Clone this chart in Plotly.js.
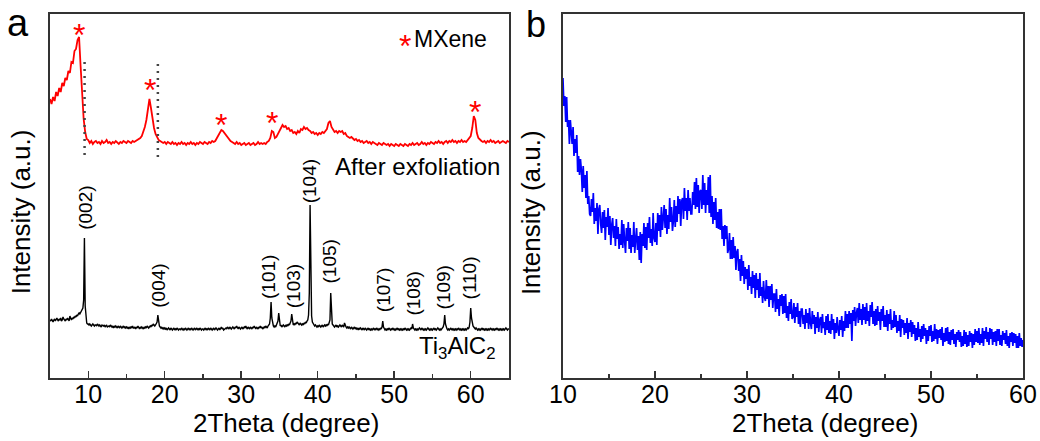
<!DOCTYPE html>
<html>
<head>
<meta charset="utf-8">
<script src="https://cdn.plot.ly/plotly-3.0.1.min.js"></script>
<style>html,body{margin:0;padding:0;background:#fff;}#chart{width:1040px;height:441px;}</style>
</head>
<body>
<div id="chart"></div>
<script>
// ---------- Panel a : MXene after exfoliation (red), 2Theta from 5 to 65, step 0.2 ----------
const redStart = 5, redStep = 0.2;
const redIntensity = [
279,274,281,277,286,282,290,286,295,292,
300,298,307,305,316,315,327,329,338,341,
312,281,259,246,239,238,235,237,234,236,
237,235,236,234,237,235,236,238,235,236,
234,236,235,237,235,234,236,235,237,236,
235,237,236,235,237,236,237,238,239,240,
242,246,251,258,268,279,270,258,250,244,
240,238,237,236,235,236,234,236,235,234,
236,234,235,233,235,234,236,234,235,233,
235,234,236,234,235,233,235,234,236,235,
234,236,235,234,236,235,237,236,237,240,
243,246,248,247,245,242,240,238,237,236,
235,234,236,234,235,233,234,235,233,234,
235,233,234,235,233,234,236,234,235,234,
235,234,236,237,240,247,246,240,241,244,
247,250,253,251,252,249,250,247,248,245,
246,244,247,245,249,248,251,249,250,248,
247,245,246,244,245,243,245,244,246,245,
247,249,255,257,251,248,246,247,245,247,
246,247,244,245,242,241,240,241,239,238,
239,237,238,236,237,235,236,237,235,236,
234,236,235,234,233,235,234,233,235,234,
233,234,232,234,233,232,234,233,232,234,
233,232,234,233,232,234,233,235,233,234,
235,233,234,236,234,235,233,235,234,236,
235,234,236,235,237,235,236,234,236,237,
235,237,236,238,236,237,235,237,236,238,
236,237,236,238,239,242,250,262,258,245,
240,238,237,236,237,235,237,236,238,236,
237,235,236,237,235,236,237,236,235,237,
236
];

// ---------- Panel a : Ti3AlC2 (black), 2Theta from 5 to 65, step 0.1 ----------
const blackStart = 5, blackStep = 0.1;
const blackIntensity = [
58,57,59,58,56,58,59,57,58,60,
58,57,59,58,60,57,58,61,59,58,
57,59,58,60,58,57,62,59,58,60,
59,61,60,62,61,63,62,64,65,64,
66,67,68,70,78,140,72,56,55,54,
54,53,54,53,52,53,54,53,52,53,
53,52,54,53,52,53,52,51,53,52,
52,53,51,52,53,51,52,52,51,53,
52,51,52,50,52,51,52,51,50,52,
51,50,52,51,50,51,52,50,51,50,
51,50,51,49,51,50,51,50,52,50,
50,51,49,51,50,52,50,49,51,50,
51,50,49,51,50,51,50,52,51,50,
51,52,51,53,52,54,53,52,53,55,
56,63,56,52,51,50,51,49,50,49,
50,49,50,48,49,50,49,48,50,49,
48,49,50,48,49,48,50,49,48,49,
49,48,50,49,48,49,48,50,49,48,
49,50,48,49,48,50,49,48,49,50,
48,49,50,48,49,48,50,49,48,49,
49,48,49,50,48,49,48,50,49,48,
50,49,48,49,50,48,49,50,49,48,
49,50,48,49,51,49,50,48,49,50,
50,49,51,50,49,51,50,49,50,51,
50,49,51,50,52,50,49,51,50,49,
50,51,49,50,51,50,52,50,49,51,
50,49,51,50,49,51,50,52,50,49,
51,50,49,51,50,52,50,51,49,50,
51,50,52,51,50,52,53,54,60,76,
60,53,52,51,52,51,53,54,57,65,
56,52,53,51,52,53,52,51,53,52,
53,52,54,53,55,57,64,57,53,54,
53,55,54,56,55,54,53,55,54,53,
54,53,55,54,56,55,57,58,63,85,
173,90,62,56,54,53,52,53,52,51,
52,51,53,52,51,52,53,51,52,53,
52,53,52,54,53,55,58,85,62,54,
53,52,51,52,53,51,52,51,52,53,
52,51,53,52,51,55,52,51,50,51,
50,51,50,49,51,50,49,50,51,49,
50,49,50,48,50,49,50,49,48,50,
49,48,50,49,48,49,50,48,49,48,
49,48,49,50,48,49,48,50,49,48,
49,48,50,49,51,57,51,49,48,49,
48,49,48,50,49,48,49,48,50,49,
48,49,48,49,50,48,49,48,49,48,
49,48,49,48,50,49,48,49,48,49,
48,49,50,49,54,50,49,48,49,48,
49,48,49,50,49,48,50,49,48,49,
48,49,48,49,50,49,48,49,48,49,
48,49,50,48,49,48,49,50,49,48,
49,48,49,50,51,54,63,54,50,49,
48,49,48,49,50,48,49,48,49,48,
49,48,49,48,50,49,48,49,48,49,
48,49,48,49,48,49,50,49,51,56,
70,60,54,52,51,50,49,50,49,48,
49,48,49,48,49,50,48,49,48,49,
48,49,48,49,48,49,50,48,49,48,
49,48,49,48,50,49,48,49,48,49,
48,49,48,49,48,49,50,49,48,49,
49
];

// ---------- Panel b (blue), 2Theta from 10 to 60, step 0.1 ----------
const blueStart = 10, blueStep = 0.1;
const blueIntensity = [
300,272,282,256,281,251,258,234,258,240,
234,251,222,239,225,243,206,222,203,219,
208,186,212,190,203,180,207,174,182,164,
162,179,166,185,154,170,157,175,144,169,
173,154,145,166,150,168,138,161,151,170,
143,162,133,153,160,140,152,132,159,139,
151,129,144,133,158,130,154,137,125,150,
137,156,129,150,125,143,131,156,125,139,
150,128,142,118,146,115,144,132,155,130,
151,128,155,140,161,135,149,132,165,140,
136,155,133,165,147,163,141,171,148,160,
173,150,169,144,163,149,180,156,171,147,
157,178,151,172,156,182,164,179,152,177,
180,159,190,167,180,158,188,167,180,164,
164,186,173,196,169,200,171,193,165,187,
188,169,203,173,195,165,188,173,201,165,
203,161,182,154,176,158,180,150,166,149,
169,148,169,139,152,132,153,139,152,125,
129,145,119,138,119,141,120,132,108,126,
129,107,119,97,123,102,117,94,111,99,
109,88,113,92,101,84,107,90,103,80,
105,88,99,80,105,82,91,75,97,81,
77,98,79,92,71,92,78,94,70,84,
84,66,89,69,79,62,83,72,84,64,
82,65,84,60,72,57,76,64,79,59,
61,75,55,71,61,75,54,67,51,69,
69,54,63,49,69,55,65,49,70,55,
49,67,54,63,44,61,50,66,46,58,
61,45,64,50,56,43,62,48,64,45,
57,44,64,48,59,39,55,45,61,49,
42,58,48,62,41,57,47,67,50,64,
50,67,54,65,37,68,57,71,52,65,
70,55,75,58,69,53,74,58,71,54,
75,57,67,52,73,61,76,54,67,52,
69,53,72,57,66,48,69,57,72,51,
63,51,68,47,64,54,69,48,58,50,
67,51,63,45,57,47,63,41,59,50,
58,43,55,45,60,39,55,46,58,41,
56,44,53,37,50,38,56,41,49,36,
52,39,54,42,50,34,48,37,52,42,
53,36,47,37,54,39,49,34,48,40,
49,38,51,32,45,36,50,37,51,34,
46,33,48,38,49,34,44,31,46,38,
48,36,46,31,42,32,48,34,46,31,
43,32,47,36,45,30,44,33,49,36,
47,35,50,33,44,35,50,32,47,39,
51,36,46,33,50,39,49,33,46,36,
47,32,49,37,49,33,43,32,47,38,
45,34,48,32,42,30,45,36,46,32,
45,35,44,30,42,30,45,32,40,31,
38
];

// ---------- labels ----------
const peakLabels = ['(002)','(004)','(101)','(103)','(104)','(105)','(107)','(108)','(109)','(110)'];
const peakLabelTheta = [9.55,19.15,33.5,36.8,38.9,41.6,48.55,52.4,56.5,59.9];
const peakLabelLevel = [170,92.5,101,92,197,116.5,88,84,90.5,100.5];
const mxeneStarTheta = [8.8,18.1,27.3,34.05,60.5];
const mxeneStarLevel = [350,295,260,262,273];
const dottedTheta = [9.52,19.1];
const dottedFrom = [223,221];
const dottedTo = [320,318];
const xTickValsA = [10,20,30,40,50,60];
const xTickValsB = [10,20,30,40,50,60];

function grid(start, step, n){ return Array.from({length:n}, (_, i) => +(start + i*step).toFixed(2)); }

const FONT = 'Arial, "Liberation Sans", sans-serif';
const frame = '#333333';

const traces = [
  {x: grid(redStart, redStep, redIntensity.length), y: redIntensity, type:'scatter', mode:'lines',
   line:{color:'#ff0000', width:1.8}, xaxis:'x', yaxis:'y', hoverinfo:'skip'},
  {x: grid(blackStart, blackStep, blackIntensity.length), y: blackIntensity, type:'scatter', mode:'lines',
   line:{color:'#000000', width:1.4}, xaxis:'x', yaxis:'y', hoverinfo:'skip'},
  {x: grid(blueStart, blueStep, blueIntensity.length), y: blueIntensity, type:'scatter', mode:'lines',
   line:{color:'#0000ff', width:1.7}, xaxis:'x2', yaxis:'y2', hoverinfo:'skip'}
];

const axisCommon = {
  showgrid:false, zeroline:false, showline:true, mirror:true, linecolor:frame, linewidth:1.6,
  ticks:'inside', ticklen:7, tickwidth:1.5, tickcolor:frame, ticklabelstandoff:-7,
  tickfont:{family:FONT, size:25, color:'#000'},
  minor:{dtick:5, ticks:'inside', ticklen:4, tickwidth:1.5, tickcolor:frame}
};
const yCommon = {showgrid:false, zeroline:false, showline:true, mirror:true, linecolor:frame, linewidth:1.6,
  ticks:'', showticklabels:false};

const ann = [];
peakLabels.forEach((t, i) => ann.push({x: peakLabelTheta[i], y: peakLabelLevel[i], xref:'x', yref:'y',
  text:t, textangle:-90, showarrow:false, xanchor:'center', yanchor:'middle',
  font:{family:FONT, size:19, color:'#000'}}));
const STAR = 32, starShift = 7.3;
mxeneStarTheta.forEach((t, i) => ann.push({x: t, y: mxeneStarLevel[i] - starShift, xref:'x', yref:'y',
  text:'*', showarrow:false, xanchor:'center', yanchor:'middle', font:{family:FONT, size:STAR, color:'#ff0000'}}));
ann.push({x:51.4, y:339 - starShift, xref:'x', yref:'y', text:'*', showarrow:false, xanchor:'center', yanchor:'middle',
  font:{family:FONT, size:STAR, color:'#ff0000'}});
ann.push({x:52.3, y:338.8, xref:'x', yref:'y', text:'MXene', showarrow:false, xanchor:'left', yanchor:'middle',
  font:{family:FONT, size:23, color:'#000'}});
ann.push({x:64.1, y:212, xref:'x', yref:'y', text:'After exfoliation', showarrow:false, xanchor:'right', yanchor:'middle',
  font:{family:FONT, size:24, color:'#000'}});
ann.push({x:63.45, y:31, xref:'x', yref:'y', text:'Ti<sub>3</sub>AlC<sub>2</sub>', showarrow:false, xanchor:'right', yanchor:'middle',
  font:{family:FONT, size:24, color:'#000'}});
ann.push({x:-0.0300, y:0.4574, xref:'paper', yref:'paper', text:'Intensity (a.u.)', textangle:-90, showarrow:false,
  xanchor:'center', yanchor:'middle', font:{family:FONT, size:26, color:'#000'}});
ann.push({x:0.4950, y:0.4547, xref:'paper', yref:'paper', text:'Intensity (a.u.)', textangle:-90, showarrow:false,
  xanchor:'center', yanchor:'middle', font:{family:FONT, size:26, color:'#000'}});
ann.push({x:0.2426, y:-0.124, xref:'paper', yref:'paper', text:'2Theta (degree)', showarrow:false,
  xanchor:'center', yanchor:'middle', font:{family:FONT, size:26, color:'#000'}});
ann.push({x:0.7965, y:-0.124, xref:'paper', yref:'paper', text:'2Theta (degree)', showarrow:false,
  xanchor:'center', yanchor:'middle', font:{family:FONT, size:26, color:'#000'}});
ann.push({x:-0.0324, y:0.974, xref:'paper', yref:'paper', text:'a', showarrow:false, xanchor:'center', yanchor:'middle',
  font:{family:FONT, size:38, color:'#000'}});
ann.push({x:0.4995, y:0.9725, xref:'paper', yref:'paper', text:'b', showarrow:false, xanchor:'center', yanchor:'middle',
  font:{family:FONT, size:36, color:'#000'}});

const shapes = dottedTheta.map((t, i) => ({type:'line', xref:'x', yref:'y', x0:t, x1:t, y0:dottedFrom[i], y1:dottedTo[i],
  line:{color:'#444', width:2.5, dash:'2px,5px'}}));

const layout = {
  width:1040, height:441,
  margin:{l:50, r:17, t:14, b:63},
  paper_bgcolor:'#fff', plot_bgcolor:'#fff',
  showlegend:false,
  font:{family:FONT, color:'#000'},
  xaxis: Object.assign({}, axisCommon, {domain:[0, 0.4717], range:[5,65], tickvals:xTickValsA, anchor:'y'}),
  yaxis: Object.assign({}, yCommon, {domain:[0,1], range:[0,364], anchor:'x'}),
  xaxis2: Object.assign({}, axisCommon, {domain:[0.5272, 1], range:[10,60], tickvals:xTickValsB, anchor:'y2'}),
  yaxis2: Object.assign({}, yCommon, {domain:[0,1], range:[0,364], anchor:'x2'}),
  annotations: ann,
  shapes: shapes
};

Plotly.newPlot('chart', traces, layout, {staticPlot:true, displayModeBar:false});
</script>
</body>
</html>
